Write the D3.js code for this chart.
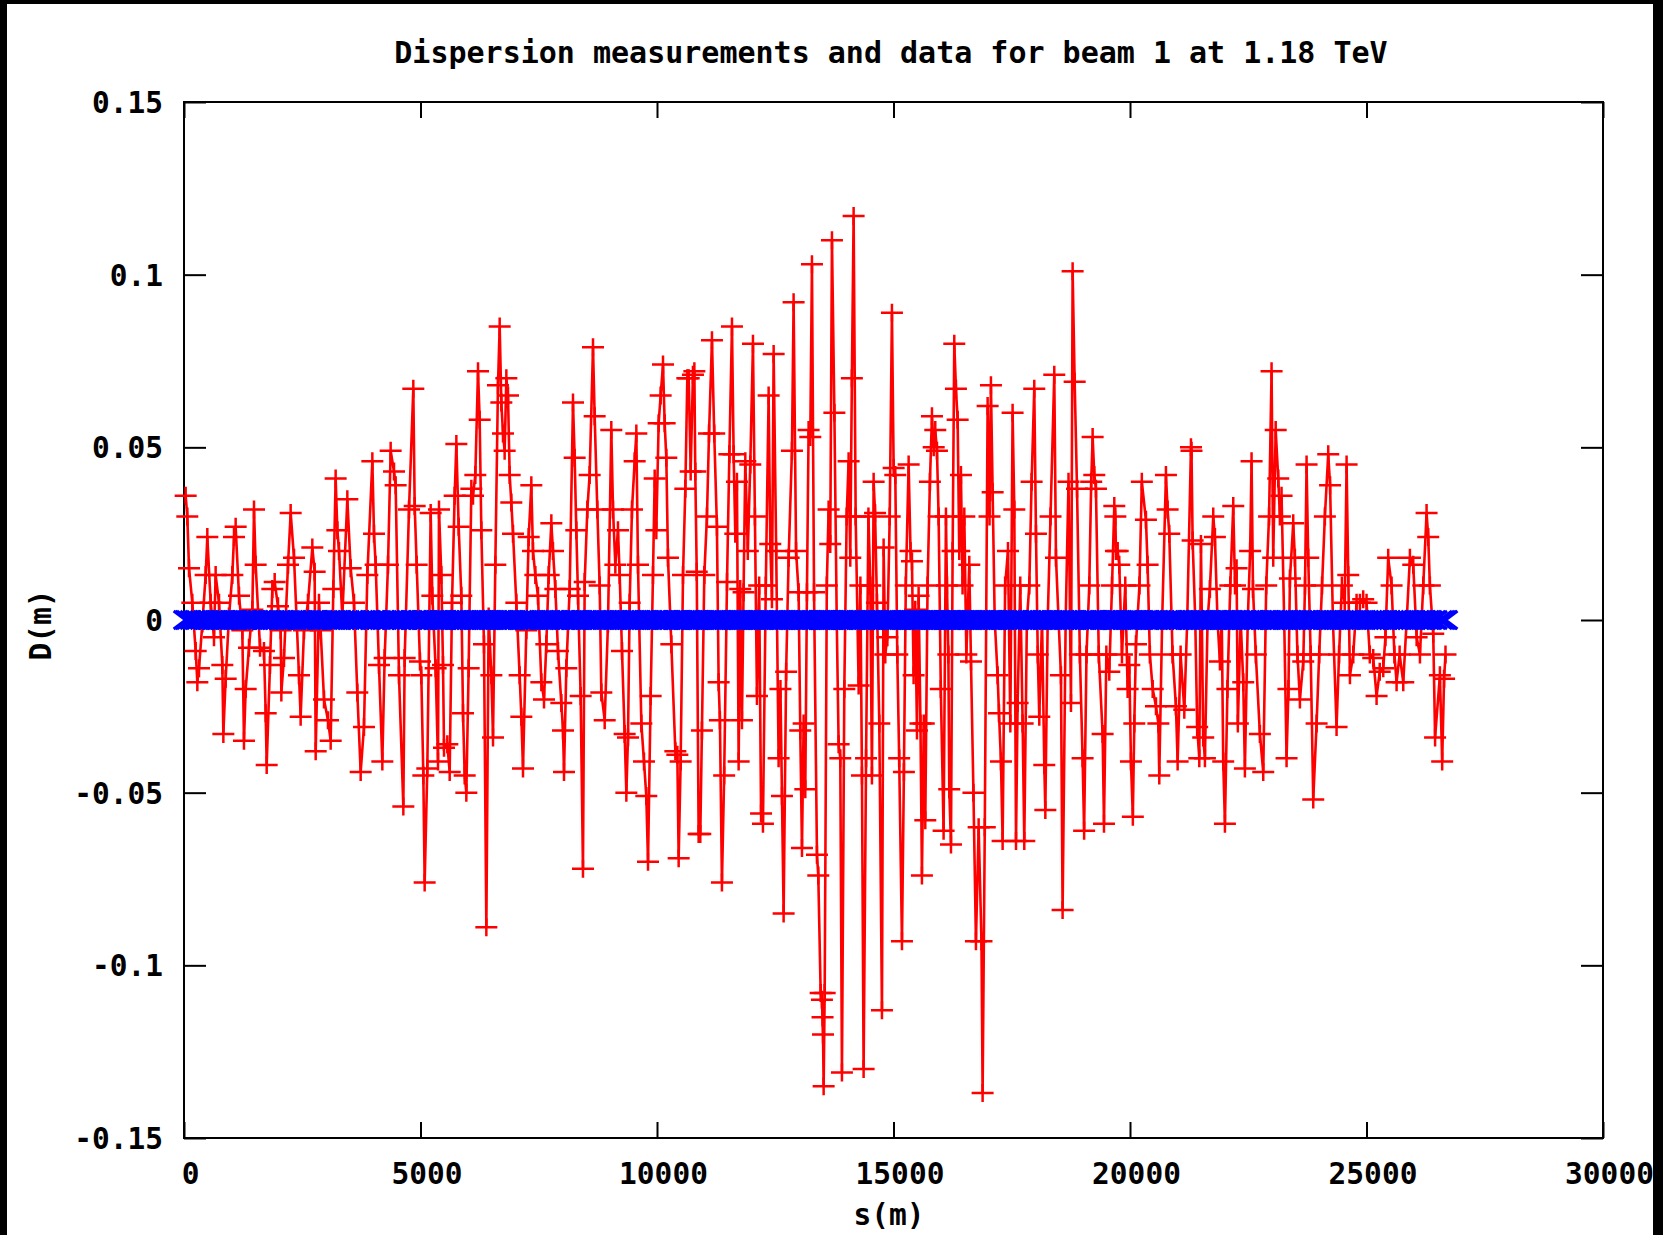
<!DOCTYPE html>
<html>
<head>
<meta charset="utf-8">
<script src="https://cdn.jsdelivr.net/npm/d3@7"></script>
<style>
  body { margin: 0; background: #000; }
  #chart svg { display: block; }
  #chart text { font-family: "DejaVu Sans Mono", monospace; font-weight: bold; font-size: 29.5px; fill: #000; }
</style>
</head>
<body>
<div id="chart"></div>
<script>
const titleText = "Dispersion measurements and data for beam 1 at 1.18 TeV";
const xLabel = "s(m)";
const yLabel = "D(m)";

const xTicks = [0, 5000, 10000, 15000, 20000, 25000, 30000];
const xTickLabels = ["0", "5000", "10000", "15000", "20000", "25000", "30000"];
const yTicks = [-0.15, -0.1, -0.05, 0, 0.05, 0.1, 0.15];
const yTickLabels = ["-0.15", "-0.1", "-0.05", "0", "0.05", "0.1", "0.15"];

// BPM positions along the ring (m)
const bpmS = [
  35, 70, 106, 176, 247, 282, 317, 388, 458, 493, 564, 634, 669, 740, 810, 832, 881, 951, 1022, 1057,
  1092, 1163, 1233, 1268, 1304, 1374, 1445, 1480, 1515, 1607, 1691, 1727, 1748, 1818, 1867, 1917, 1987, 2044, 2058, 2114,
  2199, 2255, 2326, 2431, 2466, 2537, 2621, 2713, 2762, 2784, 2854, 2889, 2960, 3044, 3101, 3157, 3206, 3242, 3277, 3347,
  3453, 3524, 3594, 3664, 3735, 3805, 3876, 3982, 4017, 4052, 4122, 4193, 4242, 4313, 4369, 4440, 4475, 4545, 4637, 4665,
  4757, 4848, 4877, 4919, 4989, 5017, 5060, 5088, 5144, 5215, 5250, 5320, 5370,
  5391, 5440, 5476, 5497, 5567, 5617, 5666, 5722, 5758, 5807, 5863, 5899, 5934, 5969, 6018, 6075, 6110, 6159, 6216, 6251,
  6286, 6342, 6392, 6441, 6498, 6533, 6582, 6638, 6674, 6709, 6744, 6779, 6815, 6850, 6885, 6920, 6956, 7026, 7096, 7132,
  7167, 7237, 7287, 7343, 7378, 7428, 7484, 7555, 7611, 7660, 7710, 7766, 7801, 7851, 7907, 7977, 8013, 8034, 8083, 8154,
  8224, 8259, 8294, 8330, 8386, 8435, 8471, 8527, 8576, 8647, 8682, 8738, 8788, 8823, 8894, 8964, 9034, 9070, 9119, 9175,
  9211, 9260, 9316, 9352, 9387, 9422, 9471, 9528, 9563, 9598, 9669, 9725, 9774, 9810, 9866, 9915, 9951, 9986, 10035, 10077,
  10127, 10162, 10197, 10232, 10303, 10388, 10430, 10458, 10500, 10550, 10599, 10641, 10670, 10712,
  10760, 10790, 10809, 10840, 10880, 10915, 10950, 11000, 11056, 11100, 11162, 11210, 11267, 11303, 11330, 11373, 11420, 11480, 11530, 11585,
  11620, 11655, 11690, 11726, 11760, 11796, 11830, 11867, 11920, 11972, 12029, 12070, 12113, 12160, 12200, 12240, 12300, 12360, 12395, 12430,
  12466, 12520, 12571, 12610, 12642, 12677, 12730, 12783, 12853, 12888, 12940, 12994, 13029, 13065, 13100, 13135, 13170, 13205, 13241, 13276,
  13320, 13382, 13410, 13460, 13487, 13500, 13510, 13523, 13545, 13590, 13628, 13663, 13699, 13750, 13800, 13840, 13875, 13910, 13960, 14010,
  14051, 14086, 14120, 14157, 14200, 14263, 14300, 14333, 14368, 14420, 14470, 14510, 14544, 14580, 14610, 14650, 14700, 14756, 14791, 14826,
  14870, 14920, 14967, 15003, 15038, 15080, 15120, 15179, 15220, 15260, 15320, 15360, 15390, 15425, 15460, 15496, 15531, 15570, 15601, 15640,
  15672, 15720, 15770, 15813, 15850, 15883, 15919, 15954, 16000, 16059,
  16109, 16130, 16160, 16179, 16215, 16250, 16285, 16320, 16356, 16390, 16426, 16460, 16497, 16540, 16602, 16638, 16690, 16743, 16800, 16860,
  16884, 16930, 16990, 17030, 17060, 17096, 17140, 17201, 17230, 17272, 17307, 17360, 17420, 17470, 17518, 17554, 17590, 17624, 17680, 17730,
  17765, 17820, 17871, 17920, 17976, 18012, 18050, 18082, 18140, 18188, 18210, 18260, 18320, 18399, 18435, 18490, 18540, 18575, 18640, 18700,
  18752, 18787, 18830, 18880, 18940, 18998, 19030, 19080, 19139, 19180, 19210, 19245, 19280, 19340, 19421, 19450, 19500, 19562, 19620, 19668,
  19690, 19703, 19740, 19773, 19830, 19900, 19950, 19985, 20020, 20060, 20091, 20126, 20200, 20250, 20337, 20372, 20420, 20480, 20549, 20600,
  20619, 20680, 20760, 20795, 20830, 20900, 20971, 21007, 21070, 21148, 21210, 21289, 21300, 21324, 21380, 21420, 21465,
  21500, 21548, 21584, 21640, 21689, 21760, 21795, 21850, 21901, 21940, 21971, 22007, 22060, 22120, 22183, 22220, 22253, 22280, 22340, 22394,
  22429, 22490, 22540, 22570, 22600, 22660, 22746, 22817, 22880, 22940, 22993, 23028, 23080, 23134, 23169, 23204, 23260, 23310, 23350, 23381,
  23451, 23486, 23540, 23592, 23663, 23700, 23733, 23768, 23820, 23874, 23945, 24000, 24060, 24120, 24191, 24230, 24290, 24367, 24420, 24480,
  24540, 24579, 24614, 24650, 24720, 24790, 24861, 24930, 25001, 25070, 25142, 25213, 25280, 25354, 25400, 25459, 25530, 25590, 25636, 25700,
  25777, 25850, 25918, 25988, 26060, 26130, 26200, 26270, 26305, 26340, 26411, 26450, 26552, 26600, 26640, 26670
];

// measured horizontal dispersion at each BPM (m)
const bpmD = [
  0.036, 0.030, 0.015, 0.005, -0.009, -0.018, -0.014, -0.001, 0.013, 0.024, 0.005, -0.005, 0.013, 0.005, -0.013, -0.033, -0.017, 0.001, 0.013, 0.024,
  0.027, 0.007, -0.003, -0.035, -0.020, -0.008, 0.003, 0.032, 0.016, -0.008, -0.009, -0.027, -0.042, -0.013, 0.009, 0.011, 0.004, -0.003, -0.021, -0.011,
  0.016, 0.031, 0.018, -0.016, -0.028, -0.003, 0.005, 0.021, 0.014, -0.038, 0.005, -0.003, -0.023, -0.029, -0.035, 0.009, 0.041, 0.026, 0.020, 0.001,
  0.035, 0.015, 0.005, -0.021, -0.044, -0.031, 0.013, 0.046, 0.025, 0.016, -0.013, -0.041, -0.011, 0.016, 0.049, 0.043, 0.039, -0.016, -0.054, -0.011,
  0.032, 0.067, 0.033, 0.016, -0.012, -0.016, -0.045, -0.076, -0.043, 0.031, 0.007, -0.014, -0.041,
  0.032, 0.013, -0.013, -0.037, -0.036, -0.044, 0.005, 0.036, 0.051, 0.027, 0.007, -0.027, -0.045, -0.050, -0.014, 0.038, 0.036, 0.042, 0.072, 0.058,
  0.026, -0.007, -0.089, 0.001, -0.016, -0.034, 0.016, 0.068, 0.085, 0.063, 0.054, 0.049, 0.070, 0.065, 0.042, 0.034, 0.025, 0.005, -0.016, -0.028,
  -0.043, -0.003, 0.024, 0.039, 0.020, 0.013, 0.007, -0.018, -0.023, -0.007, 0.013, 0.028, 0.020, 0.009, -0.009, -0.024, -0.032, -0.044, -0.014, 0.009,
  0.063, 0.047, 0.026, 0.007, -0.022, -0.072, 0.011, 0.032, 0.042, 0.079, 0.059, 0.032, 0.010, -0.021, -0.029, -0.001, 0.055, 0.032, 0.016, 0.026,
  0.013, -0.009, -0.033, -0.050, -0.034, 0.005, 0.032, 0.046, 0.054, 0.016, -0.030, -0.041, -0.051, -0.070, -0.022, 0.013, 0.041, 0.026, 0.057, 0.065,
  0.074, 0.057, 0.047, 0.018, -0.007, -0.038, -0.039, -0.069, -0.041, 0.013, 0.038, 0.070, 0.070, 0.043,
  0.071, 0.072, 0.043, 0.014, -0.062, -0.062, -0.032, 0.013, 0.030, 0.054, 0.081, 0.054, 0.027, -0.018, -0.029, -0.076, -0.045, 0.011, 0.048, 0.085,
  0.048, 0.025, 0.040, -0.041, 0.009, -0.029, 0.008, 0.046, 0.020, 0.045, 0.080, 0.030, -0.022, 0.010, -0.056, -0.059, 0.010, 0.065, 0.022, 0.006,
  0.077, 0.020, -0.040, -0.020, -0.051, -0.085, -0.015, 0.018, 0.049, 0.092, 0.020, 0.008, -0.032, -0.066, -0.030, -0.049, 0.008, 0.055, 0.053, 0.103,
  0.008, -0.068, -0.074, -0.108, -0.110, -0.115, -0.120, -0.135, -0.108, 0.010, 0.032, 0.022, 0.110, 0.060, 0.000, -0.036, -0.040, -0.131, -0.020, 0.030,
  0.046, 0.018, 0.070, 0.117, 0.030, -0.019, 0.010, -0.045, -0.130, -0.040, 0.030, 0.010, -0.045, 0.040, 0.031, 0.005, -0.030, -0.113, 0.021, -0.010,
  -0.005, 0.030, 0.089, 0.044, 0.042, -0.010, -0.040, -0.093, -0.044, 0.010, 0.045, 0.020, 0.017, -0.016, 0.003, -0.032, 0.007, -0.030, -0.074, -0.030,
  -0.058, 0.010, 0.040, 0.059, 0.050, 0.055, 0.049, 0.030, -0.020, -0.061,
  0.030, 0.010, -0.010, -0.049, -0.065, 0.020, 0.080, 0.067, 0.058, 0.020, 0.042, 0.010, 0.030, -0.010, 0.016, -0.012, -0.050, -0.093, -0.060, -0.093,
  -0.137, -0.060, 0.062, 0.030, 0.068, 0.037, 0.000, -0.016, -0.027, -0.041, -0.064, 0.010, 0.020, -0.030, 0.060, 0.032, -0.064, -0.024, 0.010, -0.030,
  -0.064, 0.000, 0.010, 0.040, 0.067, 0.025, -0.010, -0.028, 0.000, -0.042, -0.055, 0.000, 0.030, 0.071, 0.018, 0.000, -0.016, -0.084, 0.000, 0.040,
  -0.024, 0.101, 0.069, 0.038, -0.010, -0.040, -0.061, -0.010, 0.010, 0.040, 0.053, 0.042, 0.038, -0.010, -0.033, -0.059, -0.010, -0.015, 0.010, 0.033,
  0.030, 0.020, 0.020, 0.016, -0.010, 0.010, -0.020, -0.013, -0.041, -0.057, -0.030, -0.007, 0.010, 0.040, 0.029, 0.016, -0.010, -0.020, -0.025, -0.030,
  -0.045, 0.000, 0.042, 0.032, 0.025, -0.010, -0.025, -0.041, -0.010, -0.026, 0.000, 0.050, 0.049, 0.023, 0.000, -0.031, -0.040,
  0.022, -0.034, -0.040, 0.000, 0.009, 0.030, 0.024, 0.000, -0.012, 0.000, -0.041, -0.059, -0.020, 0.010, 0.033, 0.010, 0.015, -0.030, 0.000, -0.018,
  -0.043, 0.000, 0.020, 0.046, 0.009, -0.010, -0.033, -0.044, 0.010, 0.030, 0.072, 0.018, 0.055, 0.041, 0.030, 0.036, 0.000, -0.040, -0.020, 0.012,
  0.028, 0.018, -0.010, -0.023, -0.012, 0.010, 0.045, 0.018, -0.010, -0.052, -0.030, -0.010, 0.010, 0.030, 0.048, 0.039, 0.000, -0.031, -0.010, 0.010,
  0.005, 0.045, 0.013, -0.016, -0.010, 0.005, 0.005, 0.006, 0.005, -0.010, -0.011, -0.022, -0.015, -0.014, -0.005, 0.018, 0.010, -0.010, -0.018, -0.010,
  -0.018, 0.000, 0.018, 0.016, -0.005, -0.010, 0.010, 0.031, 0.024, 0.010, -0.004, -0.034, -0.016, -0.041, -0.017, -0.010
];

// model dispersion at the same BPMs: zero everywhere in this plot
const modelD = bpmS.map(() => 0);

class DispersionView {
  constructor(params) {
    this.params = params;
    this.svg = null;
    this.x = d3.scaleLinear().domain([0, 30000]).range([params.left, params.right]);
    this.y = d3.scaleLinear().domain([-0.15, 0.15]).range([params.bottom, params.top]);
    this.createSvg();
  }

  createSvg() {
    this.svg = d3.select(this.params.selector)
      .append("svg")
      .attr("width", this.params.width)
      .attr("height", this.params.height)
      .style("background", "#000");

    // white page inside the thin black frame of the screenshot
    this.svg.append("rect")
      .attr("x", 7).attr("y", 4)
      .attr("width", this.params.width - 17)
      .attr("height", this.params.height - 4)
      .attr("fill", "#fff");
  }

  drawAxes() {
    const p = this.params;
    const bottom = d3.axisBottom(this.x).tickValues(xTicks)
      .tickFormat((d, i) => xTickLabels[i]).tickSizeInner(-16).tickSizeOuter(0).tickPadding(25);
    const top = d3.axisTop(this.x).tickValues(xTicks).tickFormat("").tickSizeInner(-16).tickSizeOuter(0);
    const left = d3.axisLeft(this.y).tickValues(yTicks)
      .tickFormat((d, i) => yTickLabels[i]).tickSizeInner(-22).tickSizeOuter(0).tickPadding(21);
    const right = d3.axisRight(this.y).tickValues(yTicks).tickFormat("").tickSizeInner(-22).tickSizeOuter(0);

    const gb = this.svg.append("g").attr("transform", `translate(0,${p.bottom})`).call(bottom);
    gb.selectAll("text").attr("dx", 6);
    this.svg.append("g").attr("transform", `translate(0,${p.top})`).call(top);
    const gl = this.svg.append("g").attr("transform", `translate(${p.left},0)`).call(left);
    gl.selectAll("text").attr("dy", "0.36em");
    this.svg.append("g").attr("transform", `translate(${p.right},0)`).call(right);

    this.svg.selectAll(".domain").remove();
    this.svg.selectAll(".tick line").attr("stroke", "#000").attr("stroke-width", 2);

    this.svg.append("rect")
      .attr("x", p.left).attr("y", p.top)
      .attr("width", p.right - p.left).attr("height", p.bottom - p.top)
      .attr("fill", "none").attr("stroke", "#000").attr("stroke-width", 2);

    this.svg.append("text")
      .attr("x", 891).attr("y", 63)
      .attr("text-anchor", "middle")
      .style("font-size", "30px")
      .text(titleText);

    this.svg.append("text")
      .attr("x", 889).attr("y", 1225)
      .attr("text-anchor", "middle")
      .text(xLabel);

    this.svg.append("text")
      .attr("transform", "translate(51,625) rotate(-90)")
      .attr("text-anchor", "middle")
      .text(yLabel);
  }

  render() {
    const x = this.x, y = this.y;
    const meas = bpmS.map((s, i) => ({ s: s, d: bpmD[i] }));
    const model = bpmS.map((s, i) => ({ s: s, d: modelD[i] }));

    const line = d3.line().x(d => x(d.s)).y(d => y(d.d));

    this.svg.append("path")
      .datum(meas)
      .attr("d", line)
      .attr("fill", "none")
      .attr("stroke", "#ff0000")
      .attr("stroke-width", 2.6);

    // gnuplot style "+" points
    this.svg.append("g")
      .selectAll("path")
      .data(meas)
      .join("path")
      .attr("transform", d => `translate(${x(d.s)},${y(d.d)})`)
      .attr("d", "M-11,0H11M0,-9V9")
      .attr("stroke", "#ff0000")
      .attr("stroke-width", 2.5)
      .attr("fill", "none");

    // model points drawn as "x", they pile up into the blue band at zero
    this.svg.append("g")
      .selectAll("path")
      .data(model)
      .join("path")
      .attr("transform", d => `translate(${x(d.s)},${y(d.d)})`)
      .attr("d", "M-12,-9L12,9M-12,9L12,-9")
      .attr("stroke", "#0000ff")
      .attr("stroke-width", 3)
      .attr("fill", "none");
  }
}

const view = new DispersionView({
  selector: "#chart",
  width: 1663,
  height: 1235,
  left: 184,
  right: 1603,
  top: 102,
  bottom: 1138
});
view.drawAxes();
view.render();
</script>
</body>
</html>
